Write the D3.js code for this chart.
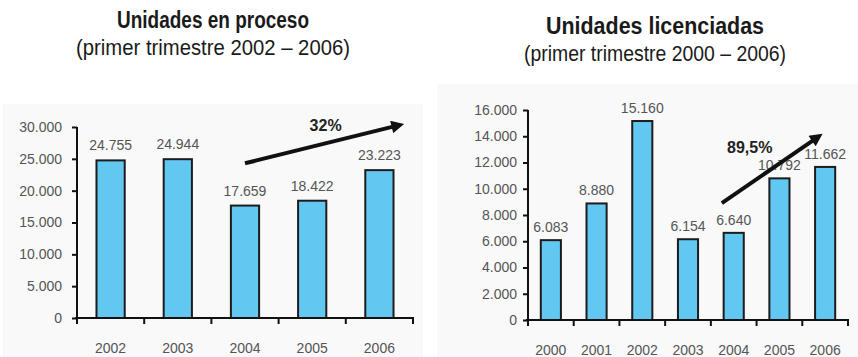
<!DOCTYPE html>
<html>
<head>
<meta charset="utf-8">
<script src="https://cdn.jsdelivr.net/npm/d3@7"></script>
<style>
  html, body { margin: 0; padding: 0; background: #ffffff; }
  svg { display: block; }
  text { font-family: "Liberation Sans", Arial, sans-serif; }
</style>
</head>
<body>
<svg id="chart" width="858" height="357"></svg>
<script>
// ---------- data ----------
const procesoYears  = ["2002", "2003", "2004", "2005", "2006"];
const procesoValues = [24755, 24944, 17659, 18422, 23223];
const procesoTicks  = [0, 5000, 10000, 15000, 20000, 25000, 30000];

const licenciadasYears  = ["2000", "2001", "2002", "2003", "2004", "2005", "2006"];
const licenciadasValues = [6083, 8880, 15160, 6154, 6640, 10792, 11662];
const licenciadasTicks  = [0, 2000, 4000, 6000, 8000, 10000, 12000, 14000, 16000];

const titles    = ["Unidades en proceso", "Unidades licenciadas"];
const subtitles = ["(primer trimestre 2002 – 2006)", "(primer trimestre 2000 – 2006)"];
const growthLabels = ["32%", "89,5%"];

// ---------- helpers ----------
const fmt = v => d3.format(",")(v).replace(/,/g, ".");
const svg = d3.select("#chart");

// faint panel backgrounds
svg.append("rect").attr("x", 3).attr("y", 104).attr("width", 420).attr("height", 253).attr("fill", "#f9f9f9");
svg.append("rect").attr("x", 437).attr("y", 84).attr("width", 421).attr("height", 273).attr("fill", "#f9f9f9");

svg.append("defs").append("marker")
  .attr("id", "arrowhead")
  .attr("viewBox", "0 0 10 10")
  .attr("refX", 2).attr("refY", 5)
  .attr("markerWidth", 3.6).attr("markerHeight", 3.2)
  .attr("orient", "auto")
  .append("path").attr("d", "M0,0 L10,5 L0,10 Z").attr("fill", "#111");

function drawChart(cfg) {
  const g = svg.append("g");
  const x = d3.scaleBand().domain(cfg.years).range([cfg.x0, cfg.x1]).padding(0);
  const y = d3.scaleLinear().domain([0, cfg.max]).range([cfg.y0, cfg.y1]);
  const bw = x.bandwidth() * cfg.barFrac;

  // bars
  g.selectAll("rect.bar").data(cfg.values).join("rect")
    .attr("class", "bar")
    .attr("x", (d, i) => x(cfg.years[i]) + (x.bandwidth() - bw) / 2)
    .attr("y", d => y(d))
    .attr("width", bw)
    .attr("height", d => y(0) - y(d))
    .attr("fill", "#62c8f2")
    .attr("stroke", "#1c1c1c")
    .attr("stroke-width", 2);

  // value labels
  g.selectAll("text.val").data(cfg.values).join("text")
    .attr("class", "val")
    .attr("x", (d, i) => x(cfg.years[i]) + x.bandwidth() / 2)
    .attr("y", d => y(d) - cfg.labelGap)
    .attr("text-anchor", "middle")
    .attr("font-size", 14)
    .attr("fill", "#555")
    .text(d => fmt(d));

  // y axis
  const ya = g.append("g").attr("transform", `translate(${cfg.x0},0)`)
    .call(d3.axisLeft(y).tickValues(cfg.ticks).tickSize(5).tickPadding(cfg.tickPad).tickFormat(fmt));
  ya.select(".domain").attr("stroke", "#111").attr("stroke-width", 2)
    .attr("d", `M0,${cfg.y1}V${cfg.y0 + 6}`);
  ya.selectAll(".tick line").attr("stroke", "#111").attr("stroke-width", 2);
  ya.selectAll(".tick text").attr("font-size", 14).attr("fill", "#555")
    .attr("font-family", "Liberation Sans, Arial, sans-serif");

  // x axis (ticks at band boundaries)
  const xa = g.append("g");
  xa.append("line").attr("x1", cfg.x0 - 2).attr("x2", cfg.x1 + 1)
    .attr("y1", cfg.y0).attr("y2", cfg.y0).attr("stroke", "#111").attr("stroke-width", 2);
  const bounds = cfg.years.map(d => x(d)).concat([cfg.x1]);
  xa.selectAll("line.tk").data(bounds).join("line").attr("class", "tk")
    .attr("x1", d => d).attr("x2", d => d)
    .attr("y1", cfg.y0).attr("y2", cfg.y0 + 6)
    .attr("stroke", "#111").attr("stroke-width", 2);
  xa.selectAll("text").data(cfg.years).join("text")
    .attr("x", d => x(d) + x.bandwidth() / 2)
    .attr("y", cfg.y0 + 35)
    .attr("text-anchor", "middle")
    .attr("font-size", 14)
    .attr("fill", "#555")
    .text(d => d);

  // growth arrow (defined in data space)
  const ax = (yr, f) => x(yr) + x.bandwidth() * f;
  const a = cfg.arrow;
  g.append("line")
    .attr("x1", ax(a.fromYear, a.fromF)).attr("y1", y(a.fromV))
    .attr("x2", ax(a.toYear, a.toF)).attr("y2", y(a.toV))
    .attr("stroke", "#111").attr("stroke-width", 4)
    .attr("marker-end", "url(#arrowhead)");
  g.append("text")
    .attr("x", ax(a.labelYear, a.labelF)).attr("y", y(a.labelV))
    .attr("text-anchor", "middle")
    .attr("font-size", 16).attr("font-weight", "bold").attr("fill", "#222")
    .text(cfg.growth);

  // titles
  svg.append("text").attr("x", cfg.cx).attr("y", cfg.titleY)
    .attr("text-anchor", "middle").attr("font-size", 23).attr("font-weight", "bold")
    .attr("fill", "#1a1a1a")
    .attr("textLength", cfg.titleW).attr("lengthAdjust", "spacingAndGlyphs")
    .text(cfg.title);
  svg.append("text").attr("x", cfg.cx).attr("y", cfg.subY)
    .attr("text-anchor", "middle").attr("font-size", 22)
    .attr("fill", "#1a1a1a")
    .attr("textLength", cfg.subW).attr("lengthAdjust", "spacingAndGlyphs")
    .text(cfg.subtitle);
}

drawChart({
  years: procesoYears, values: procesoValues, ticks: procesoTicks, max: 30000,
  x0: 77, x1: 413, y0: 318, y1: 127, barFrac: 0.42, tickPad: 10, labelGap: 10,
  title: titles[0], subtitle: subtitles[0], growth: growthLabels[0],
  cx: 213, titleY: 28, subY: 55, titleW: 192, subW: 274,
  arrow: { fromYear: "2004", fromF: 0.5, fromV: 24300, toYear: "2006", toF: 0.72, toV: 30100,
           labelYear: "2005", labelF: 0.7, labelV: 29300 }
});

drawChart({
  years: licenciadasYears, values: licenciadasValues, ticks: licenciadasTicks, max: 16000,
  x0: 528, x1: 848, y0: 320, y1: 110, barFrac: 0.44, tickPad: 6, labelGap: 8,
  title: titles[1], subtitle: subtitles[1], growth: growthLabels[1],
  cx: 655, titleY: 34, subY: 61, titleW: 218, subW: 262,
  arrow: { fromYear: "2004", fromF: 0.24, fromV: 8900, toYear: "2006", toF: 0.26, toV: 13750,
           labelYear: "2004", labelF: 0.85, labelV: 12750 }
});
</script>
</body>
</html>
